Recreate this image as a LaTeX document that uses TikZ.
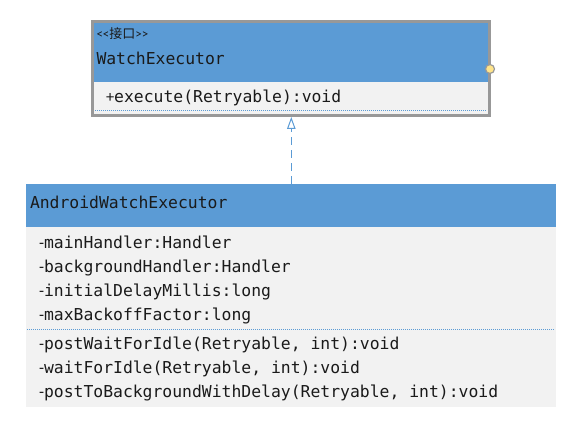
\documentclass[tikz,border=0pt]{standalone}
\usepackage{fontspec}
\setmonofont{DejaVu Sans Mono}
\newfontfamily\cjkfont{Noto Sans CJK SC}
\newfontfamily\calib{Carlito}
\usetikzlibrary{arrows.meta}
\definecolor{umlblue}{HTML}{5B9BD5}
\definecolor{bodygray}{HTML}{F2F2F2}
\definecolor{bordergray}{HTML}{989898}
\definecolor{lolli}{HTML}{FFE48A}
\definecolor{txt}{HTML}{1A1A1A}
\tikzset{
  mono/.style={font=\fontsize{16.4}{20}\selectfont\ttfamily, anchor=base west, text=txt, inner sep=0pt, outer sep=0pt},
  stereo/.style={font=\fontsize{13}{15}\selectfont, anchor=base west, text=txt, inner sep=0pt, outer sep=0pt},
  dotline/.style={umlblue, line width=0.8pt, dash pattern=on 1pt off 1pt},
  realize/.style={umlblue, line width=1.3pt, dash pattern=on 8pt off 5pt,
    -{Triangle[open, length=12pt, width=8.5pt, line width=1pt]}},
}
\begin{document}
\begin{tikzpicture}[x=1pt,y=-1pt]
\useasboundingbox (0,0) rectangle (581,430);
% ---- interface box ----
\fill[umlblue] (92.5,21.5) rectangle (489.5,82);
\fill[bodygray] (92.5,82) rectangle (489.5,115.5);
\draw[dotline] (95,110.7) -- (487,110.7);
\node[draw=bordergray, line width=3pt, minimum width=397pt, minimum height=94pt,
      inner sep=0pt, outer sep=1.5pt] (iface) at (291,68.5) {};
\node[stereo] (st) at (96.5,38.5) {{\calib <<}{\cjkfont 接口}{\calib >>}};
\node[mono] (ifname) at (96.5,65) {WatchExecutor};
\node[mono] (op1) at (106,103) {{\calib +}execute(Retryable):void};
\node[circle, draw=bordergray, fill=lolli, line width=1.2pt, minimum size=9pt, inner sep=0pt] (ball) at (490,69) {};
% ---- implementation box ----
\fill[umlblue] (26,184) rectangle (556,226.7);
\fill[bodygray] (26,226.7) rectangle (556,406.7);
\draw[dotline] (27,329.3) -- (555,329.3);
\node[minimum width=530pt, minimum height=222.7pt, inner sep=0pt, outer sep=0pt] (impl) at (291,295.35) {};
\node[mono] (clname) at (30,208.3) {AndroidWatchExecutor};
\node[mono] (a1) at (39,248.3) {{\calib -}mainHandler:Handler};
\node[mono] (a2) at (39,272.2) {{\calib -}backgroundHandler:Handler};
\node[mono] (a3) at (39,296.4) {{\calib -}initialDelayMillis:long};
\node[mono] (a4) at (39,320.6) {{\calib -}maxBackoffFactor:long};
\node[mono] (m1) at (39,349.3) {{\calib -}postWaitForIdle(Retryable, int):void};
\node[mono] (m2) at (39,373.0) {{\calib -}waitForIdle(Retryable, int):void};
\node[mono] (m3) at (39,397.0) {{\calib -}postToBackgroundWithDelay(Retryable, int):void};
% ---- realization ----
\coordinate (ax) at (291.3,0);
\draw[realize] (impl.north -| ax) -- (iface.south -| ax);
\end{tikzpicture}
\end{document}
